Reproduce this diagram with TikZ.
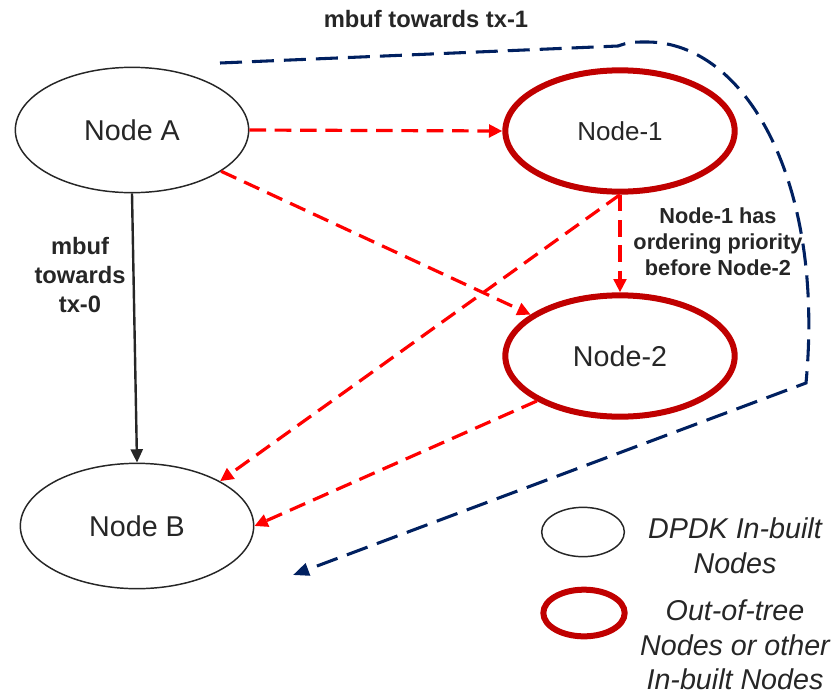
\documentclass[tikz,border=0pt]{standalone}
\usepackage{fontspec}
\setmainfont{Liberation Sans}
\usetikzlibrary{arrows.meta,shapes.geometric}
\definecolor{navy}{RGB}{0,32,96}
\definecolor{darkred}{RGB}{192,0,0}
\definecolor{txt}{RGB}{38,38,38}
\begin{document}
\begin{tikzpicture}[x=0.75pt,y=-0.75pt,
  plainnode/.style={ellipse,draw=txt,line width=1.1pt,inner sep=0pt,minimum width=175pt,minimum height=94pt,text=txt,font=\fontsize{21.5}{26}\selectfont},
  customnode/.style={ellipse,draw=darkred,line width=4.5pt,inner sep=0pt,minimum width=172pt,minimum height=91pt,text=txt,font=\fontsize{21.5}{26}\selectfont},
  redarrow/.style={draw=red,line width=2.4pt,dash pattern=on 12.5pt off 6.5pt,-{Triangle[length=10pt,width=9.5pt]}},
  blackarrow/.style={draw=txt,line width=1.8pt,-{Triangle[length=10pt,width=9pt]}},
  bluearrow/.style={draw=navy,line width=2.3pt,dash pattern=on 16.5pt off 7.5pt,-{Triangle[length=12pt,width=9.5pt]}},
  boldlabel/.style={text=txt,font=\bfseries\fontsize{17.8}{22}\selectfont,align=center,inner sep=0pt},
  legendtext/.style={text=txt,font=\itshape\fontsize{21.5}{26}\selectfont,align=center,inner sep=0pt}
]
\useasboundingbox (0,0) rectangle (834,696);

% nodes
\node[plainnode] (A) at (132,130) {Node A};
\node[customnode] (N1) at (620,131) {\fontsize{19.5}{24}\selectfont Node-1};
\node[customnode] (N2) at (620,356) {Node-2};
\node[plainnode] (B) at (137,526) {Node B};

% labels
\node[boldlabel] (title) at (426,19) {mbuf towards tx-1};
\node[boldlabel] (tx0) at (80,275) {mbuf\\towards\\tx-0};
\node[boldlabel,font=\bfseries\fontsize{16.3}{19.5}\selectfont] (prio) at (718,242) {Node-1 has\\ordering priority\\before Node-2};

% edges
\draw[redarrow] (A.east) -- (N1.west);
\draw[redarrow] (A) -- (N2);
\draw[redarrow] (N1.south) -- (N2.north);
\draw[redarrow] (N1.south) -- (B.north east);
\draw[redarrow] (N2.south west) -- (B.east);
\draw[blackarrow] (A.south) -- (B.north);

% blue path
\coordinate (b0) at (220,63);
\coordinate (b1) at (618,46);
\coordinate (b2) at (648,42);
\coordinate (b3) at (806,383);
\coordinate (b4) at (293,575);
\draw[bluearrow] (b0) -- (b1) .. controls (630,42) .. (b2) .. controls (745,43) and (825,180) .. (b3) -- (b4);

% legend
\node[ellipse,draw=txt,line width=1.1pt,inner sep=0pt,minimum width=62pt,minimum height=37pt] (lg1) at (583,532) {};
\node[ellipse,draw=darkred,line width=4.5pt,inner sep=0pt,minimum width=61pt,minimum height=35pt] (lg2) at (584,613) {};
\node[legendtext] (lt1) at (735,546) {DPDK In-built\\Nodes};
\node[legendtext] (lt2) at (735,645) {Out-of-tree\\Nodes or other\\In-built Nodes};
\end{tikzpicture}
\end{document}
